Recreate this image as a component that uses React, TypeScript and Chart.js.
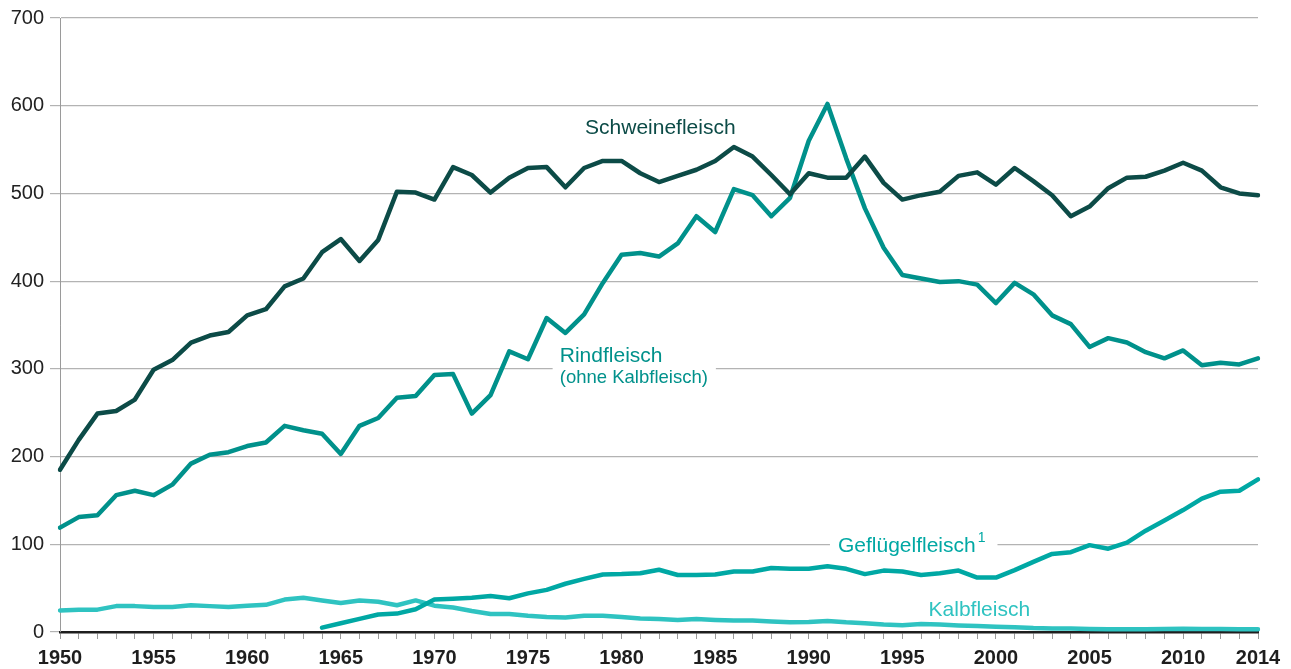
import React, { useEffect, useRef } from "react";
import { Chart, registerables } from "chart.js";

Chart.register(...registerables);

const years = [
  "1950","1951","1952","1953","1954","1955","1956","1957","1958","1959",
  "1960","1961","1962","1963","1964","1965","1966","1967","1968","1969",
  "1970","1971","1972","1973","1974","1975","1976","1977","1978","1979",
  "1980","1981","1982","1983","1984","1985","1986","1987","1988","1989",
  "1990","1991","1992","1993","1994","1995","1996","1997","1998","1999",
  "2000","2001","2002","2003","2004","2005","2006","2007","2008","2009",
  "2010","2011","2012","2013","2014",
];

const shownYearLabels = ["1950","1955","1960","1965","1970","1975","1980","1985","1990","1995","2000","2005","2010","2014"];

const yTicks = [0, 100, 200, 300, 400, 500, 600, 700];

const schweinefleisch = [
  185, 219, 249, 252, 265, 299, 310, 330, 338, 342,
  361, 368, 394, 403, 433, 448, 423, 447, 502, 501,
  493, 530, 521, 501, 518, 529, 530, 507, 529, 537,
  537, 523, 513, 520, 527, 537, 553, 542, 521, 499,
  523, 518, 518, 542, 512, 493, 498, 502, 520, 524,
  510, 529, 514, 498, 474, 485, 506, 518, 519, 526,
  535, 526, 507, 500, 498,
];

const rindfleisch = [
  119, 131, 133, 156, 161, 156, 168, 192, 202, 205,
  212, 216, 235, 230, 226, 203, 235, 244, 267, 269,
  293, 294, 249, 270, 320, 311, 358, 341, 362, 398,
  430, 432, 428, 443, 474, 456, 505, 498, 474, 495,
  560, 602, 540, 483, 438, 407, 403, 399, 400, 396,
  375, 398, 385, 361, 351, 325, 335, 330, 319, 312,
  321, 304, 307, 305, 312,
];

const gefluegelfleisch = [
  null, null, null, null, null, null, null, null, null, null,
  null, null, null, null, 5, 10, 15, 20, 21, 26,
  37, 38, 39, 41, 38.5, 44, 48, 55, 60.5, 65.5,
  66, 67, 71, 65, 65, 65.5, 69, 69, 73, 72,
  72, 75, 72, 66, 70, 69, 65, 67, 70, 62,
  62, 70.5, 80, 89, 91, 99, 95, 102, 115.5, 127,
  139, 152, 160, 161, 174,
];

const kalbfleisch = [
  24.5, 25.5, 25.5, 29.5, 29.5, 28.5, 28.5, 30.5, 29.5, 28.5,
  30, 31, 37, 39, 36, 33, 36, 34.5, 30.5, 36,
  30, 28, 24, 20.5, 20.5, 18.5, 17, 16.5, 18.5, 18.5,
  17, 15.5, 14.7, 13.7, 14.7, 13.7, 13, 13, 12, 11,
  11.3, 12.5, 11, 10, 8.5, 7.6, 9, 8.5, 7.5, 6.8,
  6, 5.5, 4.5, 4, 4, 3.4, 3.2, 3, 3, 3.5,
  3.8, 3.5, 3.5, 3, 3,
];

const COLORS = {
  schwein: "#0c4b47",
  rind: "#00918b",
  gefluegel: "#00a8a4",
  kalb: "#2fc3c1",
};

const FONT = "'Liberation Sans', Arial, Helvetica, sans-serif";

// Series name labels, anchored in data space (category index, value)
const seriesLabels = [
  { text: "Schweinefleisch", idx: 28.05, val: 567.5, size: 21, color: COLORS.schwein, bg: false },
  { text: "Rindfleisch", idx: 26.7, val: 307.5, size: 21, color: COLORS.rind, bg: true, bgPad: [7, 22, 4, 4] },
  { text: "(ohne Kalbfleisch)", idx: 26.7, val: 284.0, size: 18.5, color: COLORS.rind, bg: true, bgPad: [7, 18, 4, 6] },
  { text: "Geflügelfleisch", idx: 41.56, val: 91.0, size: 21, color: COLORS.gefluegel, bg: true, bgPad: [8, 20, 4, 4], sup: "1" },
  { text: "Kalbfleisch", idx: 46.4, val: 18.2, size: 21, color: COLORS.kalb, bg: false },
];

const labelPlugin = {
  id: "seriesLabels",
  beforeDatasetsDraw(chart: any) {
    const ctx = chart.ctx;
    const xs = chart.scales.x;
    const ys = chart.scales.y;
    ctx.save();
    for (const l of seriesLabels) {
      if (!l.bg) continue;
      ctx.font = `${l.size}px ${FONT}`;
      let w = ctx.measureText(l.text).width;
      if (l.sup) {
        ctx.font = `14px ${FONT}`;
        w += 4 + ctx.measureText(l.sup).width;
      }
      const x = xs.getPixelForValue(l.idx);
      const y = ys.getPixelForValue(l.val);
      const [pl, pr, pt, pb] = l.bgPad as number[];
      ctx.fillStyle = "#ffffff";
      ctx.fillRect(x - pl, y - l.size * 0.8 - pt, w + pl + pr - 10, l.size * 0.8 + pt + pb + 6);
    }
    ctx.restore();
  },
  afterDatasetsDraw(chart: any) {
    const ctx = chart.ctx;
    const xs = chart.scales.x;
    const ys = chart.scales.y;
    ctx.save();
    ctx.textBaseline = "alphabetic";
    ctx.textAlign = "left";
    for (const l of seriesLabels) {
      const x = xs.getPixelForValue(l.idx);
      const y = ys.getPixelForValue(l.val);
      ctx.fillStyle = l.color;
      ctx.font = `${l.size}px ${FONT}`;
      ctx.fillText(l.text, x, y);
      if (l.sup) {
        const w = ctx.measureText(l.text).width;
        ctx.font = `14px ${FONT}`;
        ctx.fillText(l.sup, x + w + 2, y - 10);
      }
    }
    ctx.restore();
  },
};

export default function App() {
  const canvasRef = useRef<HTMLCanvasElement | null>(null);

  useEffect(() => {
    document.body.style.margin = "0";
    const canvas = canvasRef.current;
    if (!canvas) return;
    const lineDs = (label: string, data: any[], color: string) => ({
      label,
      data,
      borderColor: color,
      backgroundColor: color,
      borderWidth: 4.5,
      pointRadius: 0,
      pointHoverRadius: 0,
      tension: 0,
      borderJoinStyle: "round" as const,
      borderCapStyle: "round" as const,
      spanGaps: false,
      fill: false,
    });
    const chart = new Chart(canvas, {
      type: "line",
      data: {
        labels: years,
        datasets: [
          lineDs("Schweinefleisch", schweinefleisch, COLORS.schwein),
          lineDs("Rindfleisch", rindfleisch, COLORS.rind),
          lineDs("Geflügelfleisch", gefluegelfleisch, COLORS.gefluegel),
          lineDs("Kalbfleisch", kalbfleisch, COLORS.kalb),
        ],
      },
      options: {
        responsive: false,
        animation: false,
        events: [],
        layout: { padding: { top: 18, right: 33, left: 0, bottom: 0 } },
        plugins: {
          legend: { display: false },
          title: { display: false },
          tooltip: { enabled: false },
        },
        scales: {
          x: {
            type: "category",
            offset: false,
            afterFit: (s: any) => {
              s.height = 37;
            },
            border: { display: true, color: "#1e1e1e", width: 2.5 },
            grid: {
              display: true,
              drawOnChartArea: false,
              drawTicks: true,
              tickLength: 7,
              color: "#9a9a9a",
              lineWidth: 1,
            },
            ticks: {
              autoSkip: false,
              maxRotation: 0,
              minRotation: 0,
              padding: 7,
              color: "#1e1e1e",
              font: { family: FONT, size: 20, weight: "bold" },
              callback: (_v: any, i: number) => (shownYearLabels.includes(years[i]) ? years[i] : ""),
            },
          },
          y: {
            min: 0,
            max: 700,
            afterFit: (s: any) => {
              s.width = 60;
            },
            afterBuildTicks: (s: any) => {
              s.ticks = yTicks.map((v) => ({ value: v }));
            },
            border: { display: true, color: "#9a9a9a", width: 1 },
            grid: {
              color: "#b3b3b3",
              lineWidth: 1.2,
              drawTicks: true,
              tickLength: 10,
            },
            ticks: {
              padding: 6,
              color: "#222222",
              font: { family: FONT, size: 20 },
            },
          },
        },
      },
      plugins: [labelPlugin],
    });
    return () => chart.destroy();
  }, []);

  return (
    <div style={{ width: 1291, height: 669, background: "#fff" }}>
      <canvas ref={canvasRef} width={1291} height={669} style={{ display: "block" }} />
    </div>
  );
}
